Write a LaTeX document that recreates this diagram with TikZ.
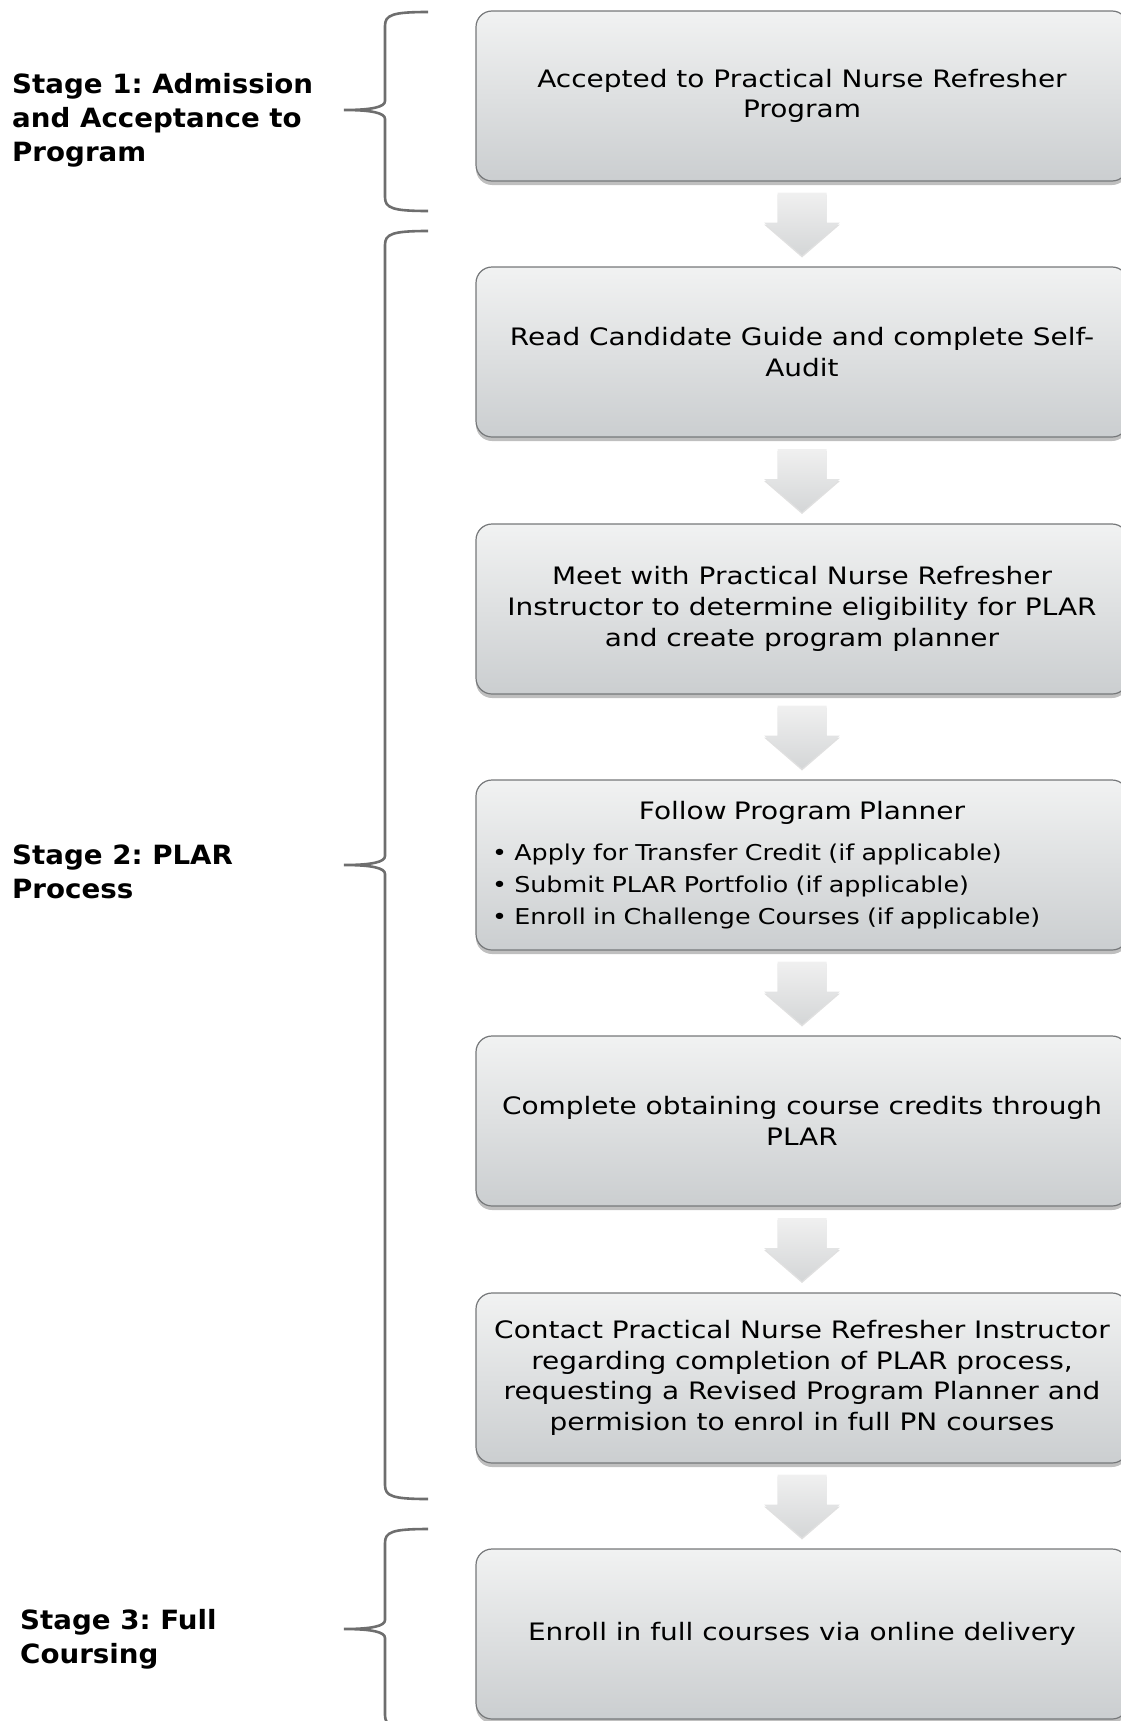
\documentclass[tikz,border=0pt]{standalone}
\usepackage{fontspec}
\setmainfont[FakeStretch=1.165]{DejaVu Sans}
\newfontfamily\stagefont[FakeStretch=1.045]{DejaVu Sans}
\usetikzlibrary{calc,shadows}
\frenchspacing

\begin{document}
\begin{tikzpicture}[x=1pt,y=-1pt]

  \definecolor{boxtop}{RGB}{241,242,242}
  \definecolor{boxbot}{RGB}{203,206,208}
  \definecolor{boxrim}{RGB}{118,120,122}
  \definecolor{arrtop}{RGB}{240,240,240}
  \definecolor{arrbot}{RGB}{212,214,215}
  \definecolor{brccol}{RGB}{110,110,110}

  % page frame, boxes run off the right edge
  \useasboundingbox (0,0) rectangle (1121,1721);

  \tikzset{
      stepstl/.style={rectangle,rounded corners=16pt,draw=boxrim,line width=1.2pt,
        top color=boxtop,bottom color=boxbot,
        drop shadow={shadow xshift=0pt,shadow yshift=-4pt,opacity=0.25,fill=black},
        minimum width=652pt,minimum height=170pt,inner xsep=16pt,
        align=center,font=\fontsize{24}{30.7}\selectfont},
      stagestl/.style={anchor=west,align=left,inner sep=0pt,
        font=\stagefont\fontsize{26.5}{34}\selectfont\bfseries},
      arrstl/.style={top color=arrtop,bottom color=arrbot,
        drop shadow={shadow xshift=0pt,shadow yshift=-2pt,opacity=0.12,fill=black}},
      brcstl/.style={draw=brccol,line width=2.6pt},
    }

  % curly brace: top, tip, bottom
  \newcommand{\stgbrace}[3]{%
    \draw[brcstl] (428,#1) .. controls (392,#1) and (385,#1+3) .. (385,#1+14)
      -- (385,#2-9) .. controls (385,#2-3) and (372,#2) .. (344,#2)
      .. controls (372,#2) and (385,#2+3) .. (385,#2+9)
      -- (385,#3-14) .. controls (385,#3-3) and (392,#3) .. (428,#3);
  }

  %% the steps
  \node[stepstl] (box1) at (802,96) {Accepted to Practical Nurse Refresher\\Program};
  \node[stepstl] (box2) at (802,352) {Read Candidate Guide and complete Self-\\Audit};
  \node[stepstl] (box3) at (802,609) {Meet with Practical Nurse Refresher\\Instructor to determine eligibility for PLAR\\and create program planner};
  \node[stepstl,text width=620pt,align=left,font=\fontsize{21.8}{32}\selectfont] (box4) at (802,865)
    {\makebox[\linewidth][c]{\fontsize{24}{30.7}\selectfont Follow Program Planner}\\[9pt]
     \textbullet\ Apply for Transfer Credit (if applicable)\\
     \textbullet\ Submit PLAR Portfolio (if applicable)\\
     \textbullet\ Enroll in Challenge Courses (if applicable)};
  \node[stepstl] (box5) at (802,1121) {Complete obtaining course credits through\\PLAR};
  \node[stepstl] (box6) at (802,1378) {Contact Practical Nurse Refresher Instructor\\regarding completion of PLAR process,\\requesting a Revised Program Planner and\\permision to enrol in full PN courses};
  \node[stepstl] (box7) at (802,1634) {Enroll in full courses via online delivery};

  % block arrows between steps
  \foreach \i/\j in {1/2,2/3,3/4,4/5,5/6,6/7}{
    \coordinate (mid\i) at ($(box\i.south)!0.5!(box\j.north)$);
    \shade[arrstl] ($(mid\i)+(-24.5,-31.5)$) -- ($(mid\i)+(24.5,-31.5)$)
      -- ($(mid\i)+(24.5,-1.5)$) -- ($(mid\i)+(38,-1.5)$) -- ($(mid\i)+(0,31.5)$)
      -- ($(mid\i)+(-38,-1.5)$) -- ($(mid\i)+(-24.5,-1.5)$) -- cycle;
  }

  %% stages
  \stgbrace{12}{110}{211}
  \stgbrace{231}{865}{1499}
  \stgbrace{1529}{1629}{1729}

  \node[stagestl] (stage1) at (12,120.5) {Stage 1: Admission\\and Acceptance to\\Program};
  \node[stagestl] (stage2) at (12,871.5) {Stage 2: PLAR\\Process};
  \node[stagestl] (stage3) at (20,1639) {Stage 3: Full\\Coursing};

\end{tikzpicture}
\end{document}
